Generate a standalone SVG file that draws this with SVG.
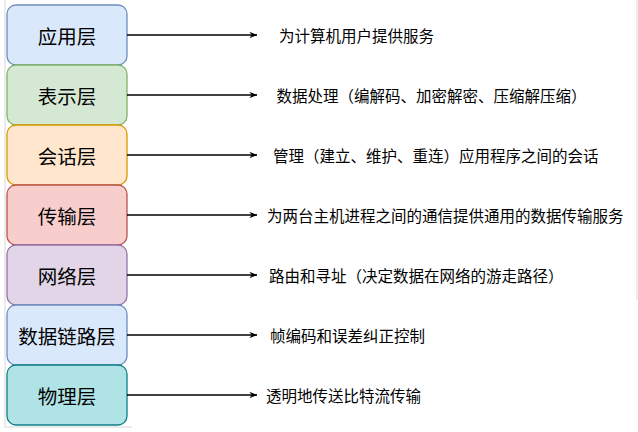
<svg xmlns="http://www.w3.org/2000/svg" width="638" height="432" viewBox="0 0 638 432">
<defs>
<style>
.box{stroke-width:1.3}
.lbl{font-family:"Noto Sans CJK SC","Noto Sans",sans-serif;font-size:19.5px;fill:#000;text-anchor:middle;dominant-baseline:central}
.desc{font-family:"Noto Sans CJK SC","Noto Sans",sans-serif;font-size:15.5px;fill:#000;dominant-baseline:central}
.conn{stroke:#000;stroke-width:1.3;fill:none;marker-end:url(#arr)}
.frame{stroke:#ebebeb;stroke-width:2;fill:none}
</style>
<marker id="arr" viewBox="0 0 10 8" refX="9.5" refY="4" markerWidth="8" markerHeight="6.4" markerUnits="userSpaceOnUse" orient="auto">
<path d="M0,0 L10,4 L0,8 L3,4 z" fill="#000"/>
</marker>
</defs>
<rect width="638" height="432" fill="#fff"/>
<path class="frame" d="M5,0 V427 H132"/>
<path class="frame" d="M637,0 V300"/>
<g id="n1"><rect class="box" x="7" y="5" width="120" height="60" rx="9" fill="#dae8fc" stroke="#6c8ebf"/><text class="lbl" x="67" y="35">应用层</text></g>
<g id="n2"><rect class="box" x="7" y="65" width="120" height="60" rx="9" fill="#d5e8d4" stroke="#82b366"/><text class="lbl" x="67" y="95">表示层</text></g>
<g id="n3"><rect class="box" x="7" y="125" width="120" height="60" rx="9" fill="#ffe6cc" stroke="#d79b00"/><text class="lbl" x="67" y="155">会话层</text></g>
<g id="n4"><rect class="box" x="7" y="185" width="120" height="60" rx="9" fill="#f8cecc" stroke="#b85450"/><text class="lbl" x="67" y="215">传输层</text></g>
<g id="n5"><rect class="box" x="7" y="245" width="120" height="60" rx="9" fill="#e1d5e7" stroke="#9673a6"/><text class="lbl" x="67" y="275">网络层</text></g>
<g id="n6"><rect class="box" x="7" y="305" width="120" height="60" rx="9" fill="#dae8fc" stroke="#6c8ebf"/><text class="lbl" x="67" y="335">数据链路层</text></g>
<g id="n7"><rect class="box" x="7" y="365" width="120" height="60" rx="9" fill="#b0e3e6" stroke="#0e8088"/><text class="lbl" x="67" y="395">物理层</text></g>
<g id="connectors">
<line class="conn" x1="127" y1="35" x2="257" y2="35"/>
<line class="conn" x1="127" y1="95" x2="257" y2="95"/>
<line class="conn" x1="127" y1="155" x2="257" y2="155"/>
<line class="conn" x1="127" y1="215" x2="257" y2="215"/>
<line class="conn" x1="127" y1="275" x2="257" y2="275"/>
<line class="conn" x1="127" y1="335" x2="257" y2="335"/>
<line class="conn" x1="127" y1="395" x2="257" y2="395"/>
</g>
<g id="descriptions">
<text class="desc" x="279" y="35">为计算机用户提供服务</text>
<text class="desc" x="276.5" y="95">数据处理（编解码、加密解密、压缩解压缩）</text>
<text class="desc" x="273" y="155">管理（建立、维护、重连）应用程序之间的会话</text>
<text class="desc" x="267" y="215">为两台主机进程之间的通信提供通用的数据传输服务</text>
<text class="desc" x="269" y="275">路由和寻址（决定数据在网络的游走路径）</text>
<text class="desc" x="270" y="335">帧编码和误差纠正控制</text>
<text class="desc" x="266" y="395">透明地传送比特流传输</text>
</g>
</svg>
